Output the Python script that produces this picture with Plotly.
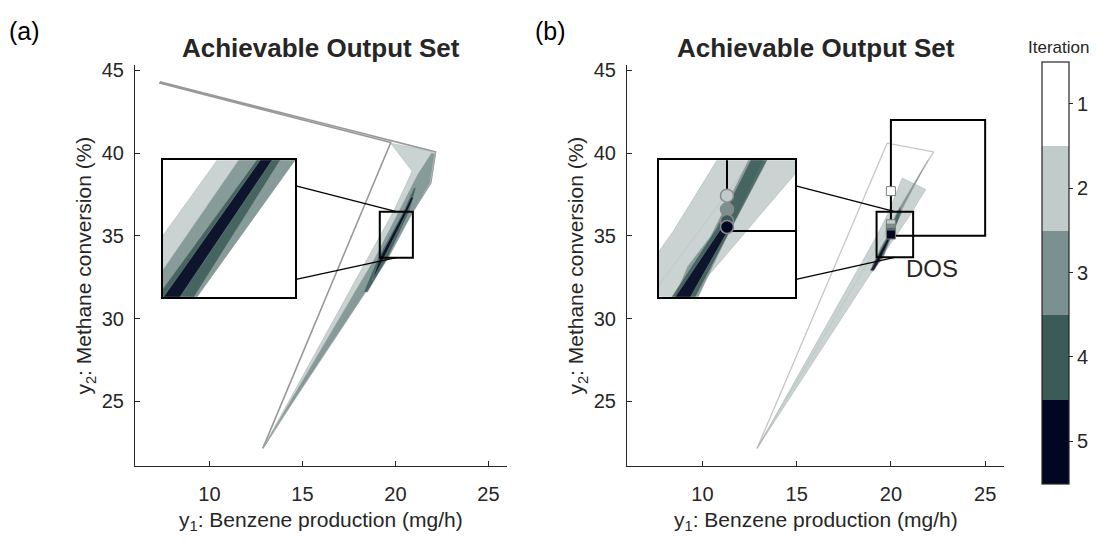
import plotly.graph_objects as go

# ---------------------------------------------------------------------------
# Iteration colours (1 = first achievable output set, 5 = last)
ITERATIONS = [1, 2, 3, 4, 5]
ITER_COLORS = ["#ffffff", "#c1cbca", "#7b918f", "#3b5b56", "#030623"]

# Axis ticks
X_TICKS = [10, 15, 20, 25]
Y_TICKS = [25, 30, 35, 40, 45]
X_RANGE = [6, 26]
Y_RANGE = [21.1, 45.3]

# ---------------------------------------------------------------------------
# Panel (a): achievable output set for each iteration, y1 (mg/h) / y2 (%)
A1_X = [7.34, 22.16, 21.9, 12.87, 19.75, 7.34]
A1_Y = [44.3, 40.07, 38.2, 22.16, 40.64, 44.22]
A2_X = [12.87, 19.16, 19.89, 20.9, 19.75, 22.16, 21.9, 20.94, 19.62]
A2_Y = [22.16, 34.93, 36.46, 38.9, 40.6, 40.07, 38.2, 36.46, 33.68]
A3_X = [13.2, 18.91, 20.18, 21.2, 21.95, 22.1, 21.85, 20.94, 19.62]
A3_Y = [22.8, 33.68, 36.46, 38.7, 40.0, 39.95, 38.2, 36.46, 33.68]
A4_X = [18.3, 19.08, 20.42, 21.0, 21.1, 20.74, 19.58, 18.5]
A4_Y = [31.6, 33.68, 36.46, 37.9, 37.9, 36.46, 33.68, 31.6]
A5_X = [18.75, 19.17, 20.47, 20.85, 20.97, 20.63, 19.39]
A5_Y = [32.3, 33.68, 36.46, 37.35, 37.3, 36.46, 33.68]

# Panel (b): achievable output set for each iteration
B1_X = [19.8, 22.26, 12.9, 19.8]
B1_Y = [40.6, 40.07, 22.16, 40.6]
B2_X = [12.9, 19.25, 19.86, 20.6, 21.85, 20.95, 19.49]
B2_Y = [22.16, 35.0, 36.4, 38.5, 37.8, 36.13, 33.7]
B3_X = [19.0, 19.45, 19.77, 20.3, 21.97, 20.5, 19.6]
B3_Y = [32.8, 34.3, 34.89, 36.4, 39.6, 36.4, 33.7]
B4_X = [19.0, 19.85, 20.33, 20.5, 20.56, 19.56]
B4_Y = [33.2, 35.05, 36.4, 36.75, 36.4, 33.7]
B5_X = [18.9, 19.95, 20.05, 19.49, 19.1]
B5_Y = [32.9, 35.12, 35.1, 33.7, 32.9]

# Design points of each iteration and the desired output set (DOS)
DP_X = [20.0, 20.0, 20.0, 20.0, 20.0]
DP_Y = [37.7, 35.7, 35.43, 35.2, 35.08]
DOS_X = [20, 25]
DOS_Y = [35, 42]

# Zoomed regions (main-axes box) and inset axis limits
ZOOM_A_X = [19.16, 20.94]
ZOOM_A_Y = [33.68, 36.46]
ZOOM_B_X = [19.24, 21.18]
ZOOM_B_Y = [33.7, 36.46]
INSET_B_X = [19.05, 20.95]
INSET_B_Y = [33.7, 36.4]

# ---------------------------------------------------------------------------
W, H = 1100, 546
FONT = "Liberation Sans, Arial, Helvetica, sans-serif"
INK = "#262626"


def px_x(p):
    return p / W


def px_y(p):
    return 1 - p / H


DOM_AX = [px_x(135), px_x(507)]
DOM_BX = [px_x(627), px_x(1004)]
DOM_Y = [px_y(465), px_y(60)]
DOM_IAX = [px_x(163), px_x(295)]
DOM_IBX = [px_x(659), px_x(795)]
DOM_IY = [px_y(294), px_y(156)]


def rgba(hex_color, a):
    h = hex_color.lstrip("#")
    r, g, b = int(h[0:2], 16), int(h[2:4], 16), int(h[4:6], 16)
    return f"rgba({r},{g},{b},{a})"


def to_paper(dom, rng, v):
    return dom[0] + (v - rng[0]) / (rng[1] - rng[0]) * (dom[1] - dom[0])


fig = go.Figure()

panel_a = [(A1_X, A1_Y), (A2_X, A2_Y), (A3_X, A3_Y), (A4_X, A4_Y), (A5_X, A5_Y)]
panel_b = [(B1_X, B1_Y), (B2_X, B2_Y), (B3_X, B3_Y), (B4_X, B4_Y), (B5_X, B5_Y)]


def add_sets(sets, xa, ya, first_edge, first_width):
    for it, (xs, ys) in zip(ITERATIONS, sets):
        col = ITER_COLORS[it - 1]
        if it == 1:
            line = dict(color=first_edge, width=first_width)
            fill = "rgba(255,255,255,1)"
        else:
            line = dict(color="rgba(150,160,160,0.55)", width=0.7)
            fill = rgba(col, 0.85)
        fig.add_trace(go.Scatter(
            x=xs + [xs[0]], y=ys + [ys[0]], mode="lines", fill="toself",
            fillcolor=fill, line=line, xaxis=xa, yaxis=ya,
            hoverinfo="skip", showlegend=False))


add_sets(panel_a, "x", "y", "#999999", 1.6)
add_sets(panel_a, "x3", "y3", "#999999", 1.6)
add_sets(panel_b, "x2", "y2", "#c6c6c6", 1.3)
add_sets(panel_b, "x4", "y4", "#c6c6c6", 1.3)

# Desired output set rectangle
dos_x = [DOS_X[0], DOS_X[0], DOS_X[1], DOS_X[1], DOS_X[0]]
dos_y = [DOS_Y[0], DOS_Y[1], DOS_Y[1], DOS_Y[0], DOS_Y[0]]
for xa, ya, w in [("x2", "y2", 2), ("x4", "y4", 2)]:
    fig.add_trace(go.Scatter(x=dos_x, y=dos_y, mode="lines",
                             line=dict(color="#000000", width=w),
                             xaxis=xa, yaxis=ya, hoverinfo="skip",
                             showlegend=False))

# Design points, coloured by iteration (carries the colour bar)
neg_iter = [-i for i in ITERATIONS]
stops = []
for k, col in enumerate(reversed(ITER_COLORS)):
    stops.append([k / 5, col])
    stops.append([(k + 1) / 5, col])

fig.add_trace(go.Scatter(
    x=DP_X, y=DP_Y, mode="markers", xaxis="x2", yaxis="y2",
    marker=dict(symbol="square", size=9, color=neg_iter, colorscale=stops,
                cmin=-5.5, cmax=-0.5, line=dict(color="#7a7a7a", width=1),
                showscale=True,
                colorbar=dict(
                    x=px_x(1042), xanchor="left", y=px_y(269.5),
                    yanchor="middle", len=427 / H, lenmode="fraction",
                    thickness=27, thicknessmode="pixels", xpad=0, ypad=0,
                    outlinecolor=INK, outlinewidth=1.2,
                    tickvals=neg_iter, ticktext=[str(i) for i in ITERATIONS],
                    tickprefix="\u2002",
                    ticks="outside", ticklen=4, tickcolor=INK,
                    tickfont=dict(family=FONT, size=20, color=INK))),
    hoverinfo="skip", showlegend=False))

fig.add_trace(go.Scatter(
    x=DP_X, y=DP_Y, mode="markers", xaxis="x4", yaxis="y4",
    marker=dict(symbol="circle", size=13, color=neg_iter, colorscale=stops,
                cmin=-5.5, cmax=-0.5, line=dict(color="#8a8a8a", width=1.5)),
    hoverinfo="skip", showlegend=False))

# ---------------------------------------------------------------------------
main_x = dict(range=X_RANGE, tickvals=X_TICKS, ticks="inside", ticklen=5,
              tickcolor=INK, showline=True, linecolor=INK, linewidth=1,
              showgrid=False, zeroline=False, ticklabelstandoff=10,
              tickfont=dict(family=FONT, size=20, color=INK))
main_y = dict(range=Y_RANGE, tickvals=Y_TICKS, ticks="inside", ticklen=5,
              tickcolor=INK, showline=True, linecolor=INK, linewidth=1,
              showgrid=False, zeroline=False, domain=DOM_Y,
              ticklabelstandoff=6,
              tickfont=dict(family=FONT, size=20, color=INK))
inset_ax = dict(showticklabels=False, ticks="", showline=True, mirror=True,
                linecolor="#000000", linewidth=2, showgrid=False,
                zeroline=False)

fig.update_layout(
    width=W, height=H, margin=dict(l=0, r=0, t=0, b=0),
    paper_bgcolor="white", plot_bgcolor="white",
    xaxis=dict(main_x, domain=DOM_AX, anchor="y"),
    yaxis=dict(main_y, anchor="x"),
    xaxis2=dict(main_x, domain=DOM_BX, anchor="y2"),
    yaxis2=dict(main_y, anchor="x2"),
    xaxis3=dict(inset_ax, domain=DOM_IAX, range=ZOOM_A_X, anchor="y3"),
    yaxis3=dict(inset_ax, domain=DOM_IY, range=ZOOM_A_Y, anchor="x3"),
    xaxis4=dict(inset_ax, domain=DOM_IBX, range=INSET_B_X, anchor="y4"),
    yaxis4=dict(inset_ax, domain=DOM_IY, range=INSET_B_Y, anchor="x4"),
)

# Zoom boxes and connectors to the insets
shapes = []
for xref, yref, zx, zy, dom_x, idom_x in [
        ("x", "y", ZOOM_A_X, ZOOM_A_Y, DOM_AX, DOM_IAX),
        ("x2", "y2", ZOOM_B_X, ZOOM_B_Y, DOM_BX, DOM_IBX)]:
    shapes.append(dict(type="rect", xref=xref, yref=yref, x0=zx[0], x1=zx[1],
                       y0=zy[0], y1=zy[1], line=dict(color="#000000", width=2)))
    mid = (zx[0] + zx[1]) / 2
    px_mid = to_paper(dom_x, X_RANGE, mid)
    top = to_paper(DOM_Y, Y_RANGE, zy[1])
    bot = to_paper(DOM_Y, Y_RANGE, zy[0])
    ih = DOM_IY[1] - DOM_IY[0]
    shapes.append(dict(type="line", xref="paper", yref="paper",
                       x0=idom_x[1], y0=DOM_IY[1] - 0.186 * ih,
                       x1=px_mid, y1=top, line=dict(color="#000000", width=1.3)))
    shapes.append(dict(type="line", xref="paper", yref="paper",
                       x0=idom_x[1], y0=DOM_IY[1] - 0.875 * ih,
                       x1=px_mid, y1=bot, line=dict(color="#000000", width=1.3)))
fig.update_layout(shapes=shapes)

# Titles, axis labels and panel tags
ann = []
for dom_x, tag, tag_x in [(DOM_AX, "(a)", px_x(24)), (DOM_BX, "(b)", px_x(550))]:
    cx = (dom_x[0] + dom_x[1]) / 2
    ann.append(dict(text="<b>Achievable Output Set</b>", x=cx, y=px_y(42),
                    font=dict(family=FONT, size=26, color=INK)))
    ann.append(dict(text="y<sub>1</sub>: Benzene production (mg/h)", x=cx,
                    y=px_y(521), font=dict(family=FONT, size=21, color=INK)))
    ann.append(dict(text="y<sub>2</sub>: Methane conversion (%)",
                    x=dom_x[0] - px_x(50), y=(DOM_Y[0] + DOM_Y[1]) / 2,
                    textangle=-90, font=dict(family=FONT, size=21, color=INK)))
    ann.append(dict(text=tag, x=tag_x, y=px_y(25),
                    font=dict(family=FONT, size=25, color="#000000")))
ann.append(dict(text="DOS", x=22.2, y=33.05, xref="x2", yref="y2",
                font=dict(family=FONT, size=24, color=INK)))
ann.append(dict(text="Iteration", x=px_x(1058), y=px_y(42),
                font=dict(family=FONT, size=17, color=INK)))
for a in ann:
    a.setdefault("xref", "paper")
    a.setdefault("yref", "paper")
    a["xanchor"] = "center"
    a["yanchor"] = "middle"
    a["showarrow"] = False
fig.update_layout(annotations=ann)

fig.write_html("out.html")
